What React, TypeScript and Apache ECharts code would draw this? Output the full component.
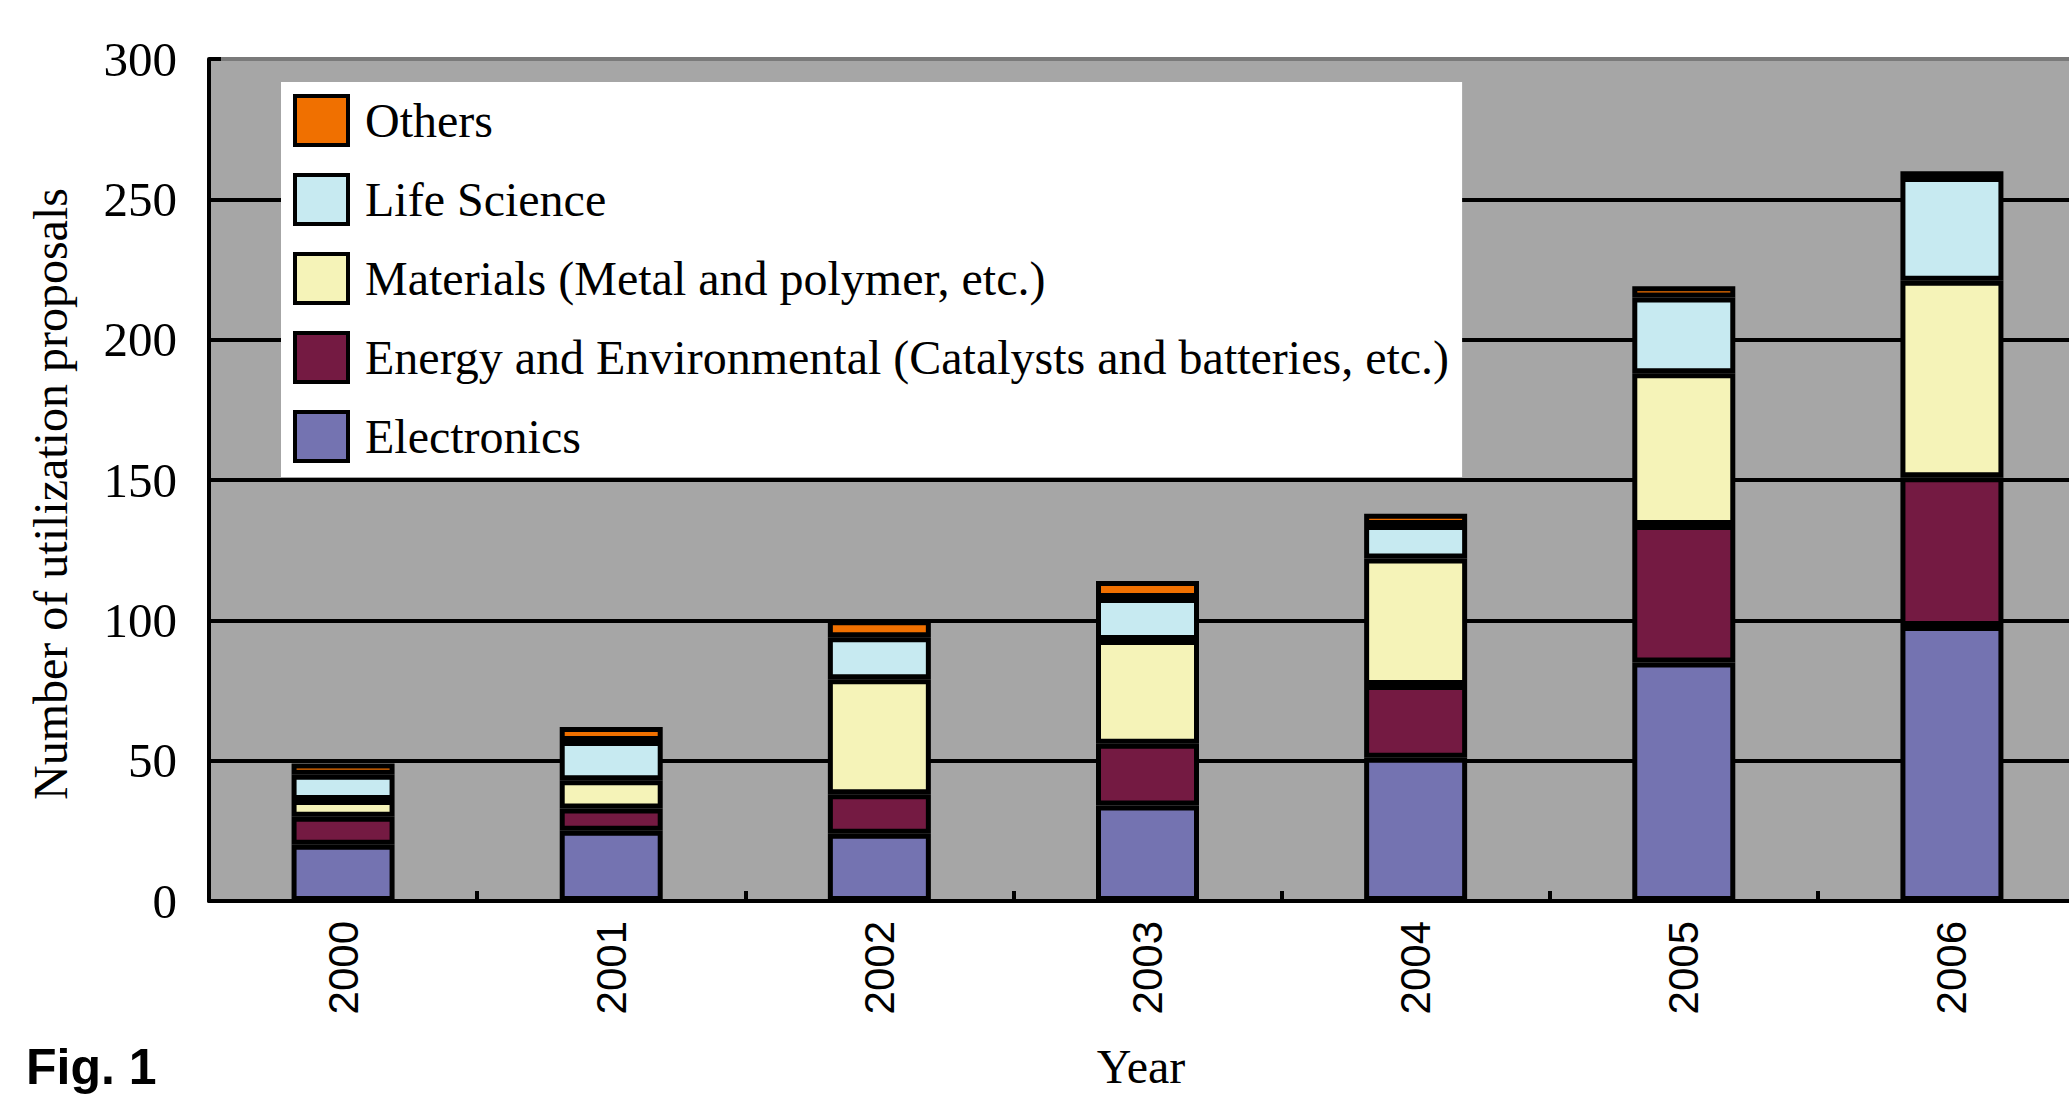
import React, { useEffect, useRef } from 'react';
import * as echarts from 'echarts';

const categories = ['2000', '2001', '2002', '2003', '2004', '2005', '2006'];
const electronics = [20, 25, 24, 34, 51, 85, 98];
const energy = [10, 8, 14, 22, 26, 49, 53];
const materials = [6, 10, 41, 37, 45, 54, 70];
const lifeScience = [9, 14, 15, 15, 12, 27, 37];
const others = [4, 5, 6, 6, 4, 4, 2];

const seriesNames = [
  'Electronics',
  'Energy and Environmental (Catalysts and batteries, etc.)',
  'Materials (Metal and polymer, etc.)',
  'Life Science',
  'Others',
];
const seriesColors = ['#7473b1', '#741a42', '#f5f3b8', '#c7eaf1', '#f07000'];
const seriesValues = [electronics, energy, materials, lifeScience, others];
const yTicks = [0, 50, 100, 150, 200, 250, 300];

export default function App() {
  const ref = useRef<HTMLDivElement>(null);
  useEffect(() => {
    document.body.style.margin = '0';
    document.body.style.overflow = 'hidden';
    const chart = echarts.init(ref.current!, null, { renderer: 'svg' });
    const serif = 'Liberation Serif';
    chart.setOption({
      animation: false,
      backgroundColor: '#ffffff',
      grid: {
        left: 209,
        top: 59,
        width: 1877,
        height: 842,
        show: true,
        backgroundColor: '#a6a6a6',
        borderWidth: 0,
        outerBoundsMode: 'none',
        containLabel: false,
      },
      legend: {
        orient: 'vertical',
        left: 281,
        top: 82,
        backgroundColor: '#ffffff',
        padding: [12, 13, 14, 12],
        itemWidth: 53,
        itemHeight: 49,
        itemGap: 26,
        icon: 'rect',
        selectedMode: false,
        itemStyle: { borderColor: '#000', borderWidth: 4 },
        textStyle: {
          fontFamily: serif,
          fontSize: 48,
          color: '#000',
          padding: [0, 0, 0, 12],
          lineHeight: 49,
        },
        data: seriesNames.slice().reverse(),
      },
      xAxis: {
        type: 'category',
        data: categories,
        boundaryGap: true,
        axisLine: { lineStyle: { color: '#000', width: 4 } },
        axisTick: { show: true, inside: true, length: 10, lineStyle: { color: '#000', width: 4 } },
        axisLabel: {
          rotate: 90,
          margin: 20,
          fontFamily: 'Liberation Sans',
          fontSize: 42,
          color: '#000',
        },
        splitLine: { show: false },
        z: 5,
      },
      yAxis: {
        type: 'value',
        min: yTicks[0],
        max: yTicks[yTicks.length - 1],
        interval: 50,
        axisLine: { show: true, lineStyle: { color: '#000', width: 4 } },
        axisTick: { show: true, inside: true, length: 12, lineStyle: { color: '#000', width: 4 } },
        axisLabel: { margin: 32, fontFamily: serif, fontSize: 49, color: '#000' },
        splitLine: {
          show: true,
          lineStyle: {
            color: ['#000', '#000', '#000', '#000', '#000', '#000', '#7a7a7a'],
            width: 4,
          },
        },
      },
      series: seriesNames.map((name, i) => ({
        name,
        type: 'bar',
        stack: 'total',
        barWidth: 103,
        data: seriesValues[i],
        itemStyle: { color: seriesColors[i], borderColor: '#000', borderWidth: 5 },
      })),
      graphic: [
        {
          type: 'text',
          x: 50,
          y: 494,
          rotation: Math.PI / 2,
          style: {
            text: 'Number of utilization proposals',
            fontFamily: serif,
            fontSize: 48,
            fill: '#000',
            align: 'center',
            verticalAlign: 'middle',
          },
        },
        {
          type: 'text',
          x: 1141,
          y: 1090,
          style: {
            text: 'Year',
            fontFamily: serif,
            fontSize: 48,
            fill: '#000',
            align: 'center',
            verticalAlign: 'bottom',
          },
        },
        {
          type: 'text',
          x: 26,
          y: 1092,
          style: {
            text: 'Fig. 1',
            fontFamily: 'Liberation Sans',
            fontWeight: 'bold',
            fontSize: 50,
            fill: '#000',
            align: 'left',
            verticalAlign: 'bottom',
          },
        },
      ],
    });
    return () => chart.dispose();
  }, []);
  return <div ref={ref} style={{ width: 2069, height: 1094, background: '#fff' }} />;
}
